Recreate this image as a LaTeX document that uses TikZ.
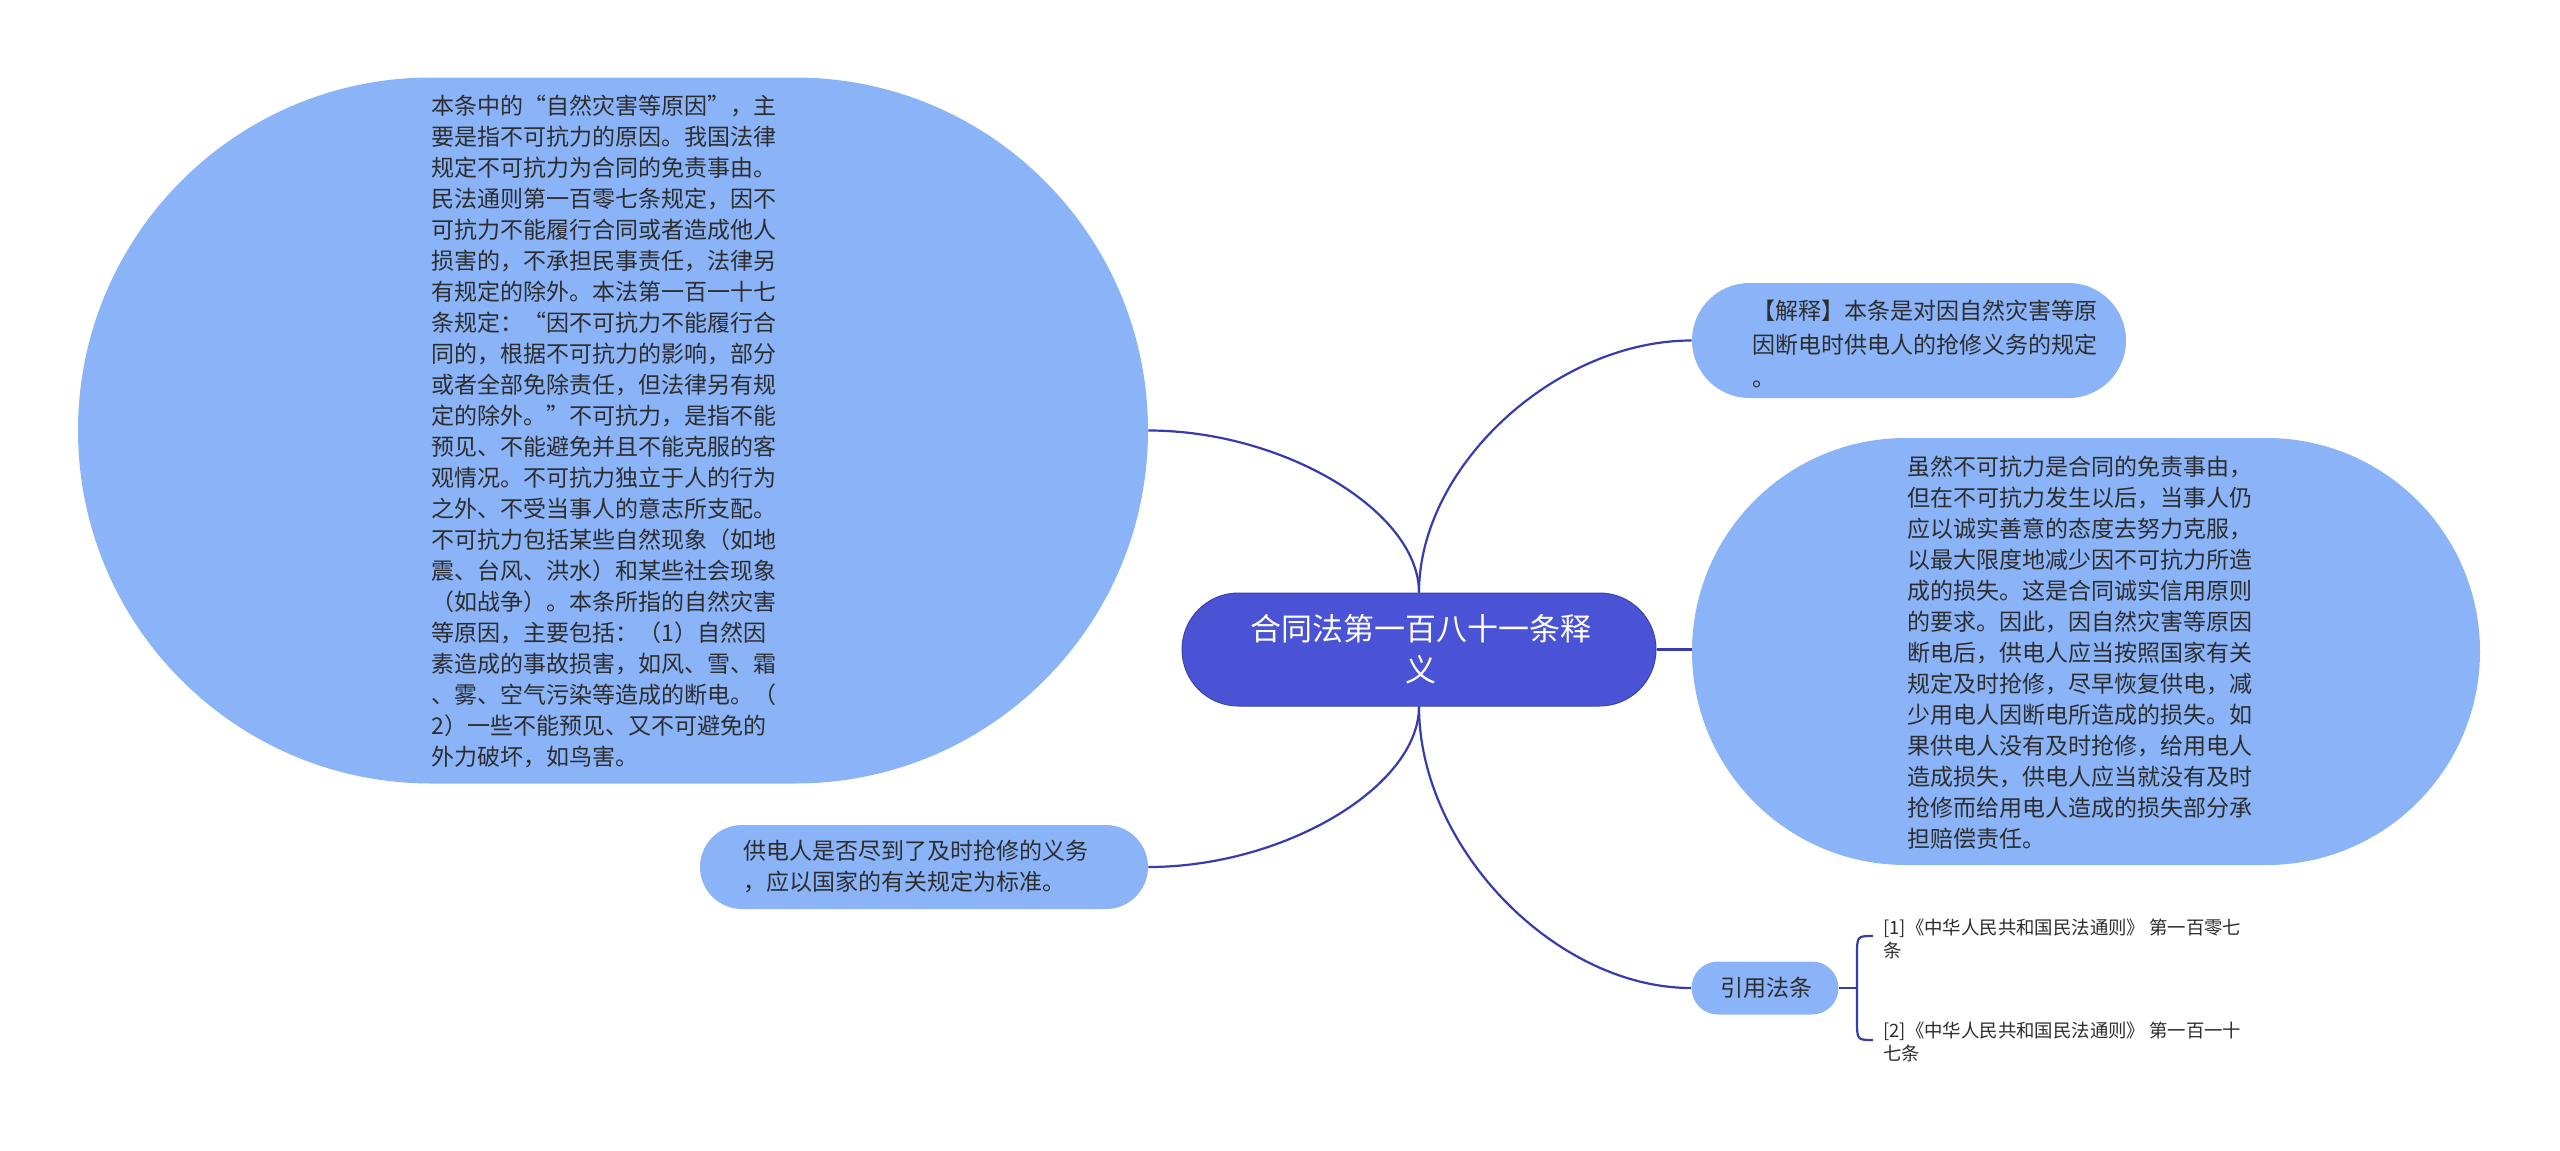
\documentclass[tikz,border=0pt]{standalone}
\usepackage{fontspec}
\setmainfont{Noto Sans CJK SC}
\usetikzlibrary{shapes.misc,calc}
\definecolor{lightnode}{RGB}{139,180,248}
\definecolor{mainnode}{RGB}{74,82,214}
\definecolor{linkc}{RGB}{55,60,170}
\definecolor{txt}{RGB}{45,45,45}
\begin{document}
\begin{tikzpicture}[x=0.5pt,y=-0.5pt,
  bubble/.style={rounded rectangle, fill=lightnode, draw=none, inner sep=0pt},
  centerbox/.style={rounded rectangle, fill=mainnode, draw=mainnode!80!black, line width=0.5pt, inner sep=0pt},
  txtblock/.style={anchor=west, align=left, inner sep=0pt, text=txt, font=\fontsize{11.5}{15.5}\selectfont},
  reftext/.style={anchor=west, align=left, inner sep=0pt, text=txt, font=\fontsize{9.2}{11.5}\selectfont},
  link/.style={draw=linkc, line width=1.1pt}
]
\path[fill=white] (0,0) rectangle (2560,1151);
\useasboundingbox (0,0) rectangle (2560,1151);

% shapes
\node[bubble, minimum width=535pt, minimum height=353pt] (lb) at (613,430.5) {};
\node[bubble, minimum width=217pt, minimum height=57.5pt] (rt) at (1909,340.5) {};
\node[bubble, minimum width=394pt, minimum height=213.5pt] (rb) at (2086,651.5) {};
\node[bubble, minimum width=224pt, minimum height=42pt] (bl) at (924,867) {};
\node[bubble, minimum width=73.5pt, minimum height=26.5pt] (cite) at (1765,988) {};
\node[centerbox, minimum width=237pt, minimum height=56.5pt] (c) at (1419,649.5) {};

% connectors
\coordinate (k1) at (c.north |- lb.east);
\coordinate (k2) at (c.north |- rt.west);
\coordinate (k3) at (c.south |- bl.east);
\coordinate (k4) at (c.south |- cite.west);
\draw[link] (c.north) .. controls ($(c.north)!0.5!(k1)$) and ($(lb.east)!0.5!(k1)$) .. (lb.east);
\draw[link] (c.north) .. controls ($(c.north)!0.5!(k2)$) and ($(rt.west)!0.5!(k2)$) .. (rt.west);
\draw[link] (c.south) .. controls ($(c.south)!0.5!(k3)$) and ($(bl.east)!0.5!(k3)$) .. (bl.east);
\draw[link] (c.south) .. controls ($(c.south)!0.5!(k4)$) and ($(cite.west)!0.5!(k4)$) .. (cite.west);
\draw[link] (c.east) -- (c.east -| rb.west);

\coordinate (bm) at (1857,988);
\coordinate (b1) at (1873,936);
\coordinate (b2) at (1873,1040);
\draw[link] (cite.east) -- (bm);
\draw[link] (b1) .. controls (1857,936) .. (1857,956) -- (1857,1020) .. controls (1857,1040) .. (b2);

% texts
\node[txtblock] (lbt) at (431,431.5) {本条中的“自然灾害等原因”，主\\要是指不可抗力的原因。我国法律\\规定不可抗力为合同的免责事由。\\民法通则第一百零七条规定，因不\\可抗力不能履行合同或者造成他人\\损害的，不承担民事责任，法律另\\有规定的除外。本法第一百一十七\\条规定：“因不可抗力不能履行合\\同的，根据不可抗力的影响，部分\\或者全部免除责任，但法律另有规\\定的除外。”不可抗力，是指不能\\预见、不能避免并且不能克服的客\\观情况。不可抗力独立于人的行为\\之外、不受当事人的意志所支配。\\不可抗力包括某些自然现象（如地\\震、台风、洪水）和某些社会现象\\（如战争）。本条所指的自然灾害\\等原因，主要包括：（1）自然因\\素造成的事故损害，如风、雪、霜\\、雾、空气污染等造成的断电。（\\2）一些不能预见、又不可避免的\\外力破坏，如鸟害。};

\node[txtblock, font=\fontsize{11.5}{16.75}\selectfont] (rtt) at (1752,344) {【解释】本条是对因自然灾害等原\\因断电时供电人的抢修义务的规定\\。};

\node[txtblock] (rbt) at (1907,652.5) {虽然不可抗力是合同的免责事由，\\但在不可抗力发生以后，当事人仍\\应以诚实善意的态度去努力克服，\\以最大限度地减少因不可抗力所造\\成的损失。这是合同诚实信用原则\\的要求。因此，因自然灾害等原因\\断电后，供电人应当按照国家有关\\规定及时抢修，尽早恢复供电，减\\少用电人因断电所造成的损失。如\\果供电人没有及时抢修，给用电人\\造成损失，供电人应当就没有及时\\抢修而给用电人造成的损失部分承\\担赔偿责任。};

\node[txtblock] (blt) at (743,866.5) {供电人是否尽到了及时抢修的义务\\，应以国家的有关规定为标准。};

\node[align=center, inner sep=0pt, text=white, font=\fontsize{15.5}{20.5}\selectfont] (ct) at (1421,649.5) {合同法第一百八十一条释\\义};

\node[inner sep=0pt, text=txt, font=\fontsize{11.5}{14}\selectfont] (citet) at (1766,988) {引用法条};

\node[reftext] (r1) at (1883,938.5) {[1]《中华人民共和国民法通则》 第一百零七\\条};
\node[reftext] (r2) at (1883,1041.5) {[2]《中华人民共和国民法通则》 第一百一十\\七条};
\end{tikzpicture}
\end{document}
